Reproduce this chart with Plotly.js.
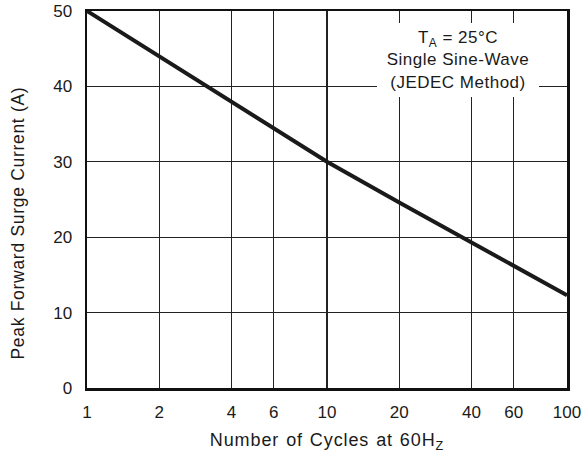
<!DOCTYPE html>
<html>
<head>
<meta charset="utf-8">
<script src="https://cdn.plot.ly/plotly-3.0.1.min.js"></script>
<style>
  html, body { margin: 0; padding: 0; background: #fff; }
  #chart { width: 585px; height: 458px; }
  .xtitle { letter-spacing: 0.9px; word-spacing: 1px; }
  .annotation-text { letter-spacing: 0.5px; }
  .ytitle-ann .annotation-text { letter-spacing: 0.7px; }
</style>
</head>
<body>
<div id="chart"></div>
<script>
// Number of cycles at 60 Hz
const cycles = [1, 2, 4, 6, 10, 20, 40, 60, 100];
// Peak forward surge current (A)
const surgeCurrent = [50, 44, 38, 34.4, 30, 24.6, 19.3, 16.2, 12.3];
const xTickVals = [1, 2, 4, 6, 10, 20, 40, 60, 100];
const xTickText = ['1', '2', '4', '6', '10', '20', '40', '60', '100'];
const yTickVals = [0, 10, 20, 30, 40, 50];

const font = 'Liberation Sans, Arial, Helvetica, sans-serif';

const trace = {
  x: cycles,
  y: surgeCurrent,
  type: 'scatter',
  mode: 'lines',
  line: { color: '#1a1a1a', width: 4 },
  hoverinfo: 'skip'
};

const layout = {
  width: 585,
  height: 458,
  margin: { l: 87, r: 18, t: 11, b: 70 },
  paper_bgcolor: '#ffffff',
  plot_bgcolor: '#ffffff',
  showlegend: false,
  font: { family: font, size: 17, color: '#1a1a1a' },
  xaxis: {
    type: 'log',
    range: [0, 2],
    tickvals: xTickVals,
    ticktext: xTickText,
    ticks: '',
    ticklabelstandoff: 7,
    showgrid: true,
    gridcolor: '#222222',
    gridwidth: 1.2,
    showline: true,
    linecolor: '#111111',
    linewidth: 2.5,
    mirror: true,
    zeroline: false,
    tickfont: { family: font, size: 17, color: '#1a1a1a' },
    title: { text: 'Number of Cycles at 60H<sub>Z</sub>', font: { family: font, size: 18, color: '#1a1a1a' }, standoff: 13 }
  },
  yaxis: {
    range: [0, 50],
    tickvals: yTickVals,
    ticks: '',
    ticklabelstandoff: 9,
    showgrid: true,
    gridcolor: '#222222',
    gridwidth: 1.2,
    showline: true,
    linecolor: '#111111',
    linewidth: 2.5,
    mirror: true,
    zeroline: false,
    tickfont: { family: font, size: 17, color: '#1a1a1a' }
  },
  annotations: [{
    xref: 'paper', yref: 'paper',
    x: 0.7729, y: 0.870,
    xanchor: 'center', yanchor: 'middle',
    text: 'T<sub>A</sub> = 25°C<br>Single Sine-Wave<br>(JEDEC Method)',
    showarrow: false,
    align: 'center',
    bgcolor: '#ffffff',
    borderpad: 0,
    borderwidth: 0,
    width: 162,
    height: 74,
    font: { family: font, size: 17, color: '#1a1a1a' }
  }, {
    xref: 'paper', yref: 'paper',
    x: -0.14375, y: 0.4363,
    xanchor: 'center', yanchor: 'middle',
    textangle: -90,
    text: 'Peak Forward Surge Current (A)',
    showarrow: false,
    font: { family: font, size: 17.5, color: '#1a1a1a' }
  }]
};

Plotly.newPlot('chart', [trace], layout, { displayModeBar: false, staticPlot: true }).then(function (gd) {
  const anns = gd.querySelectorAll('.annotation');
  if (anns.length > 1) anns[1].classList.add('ytitle-ann');
});
</script>
</body>
</html>
